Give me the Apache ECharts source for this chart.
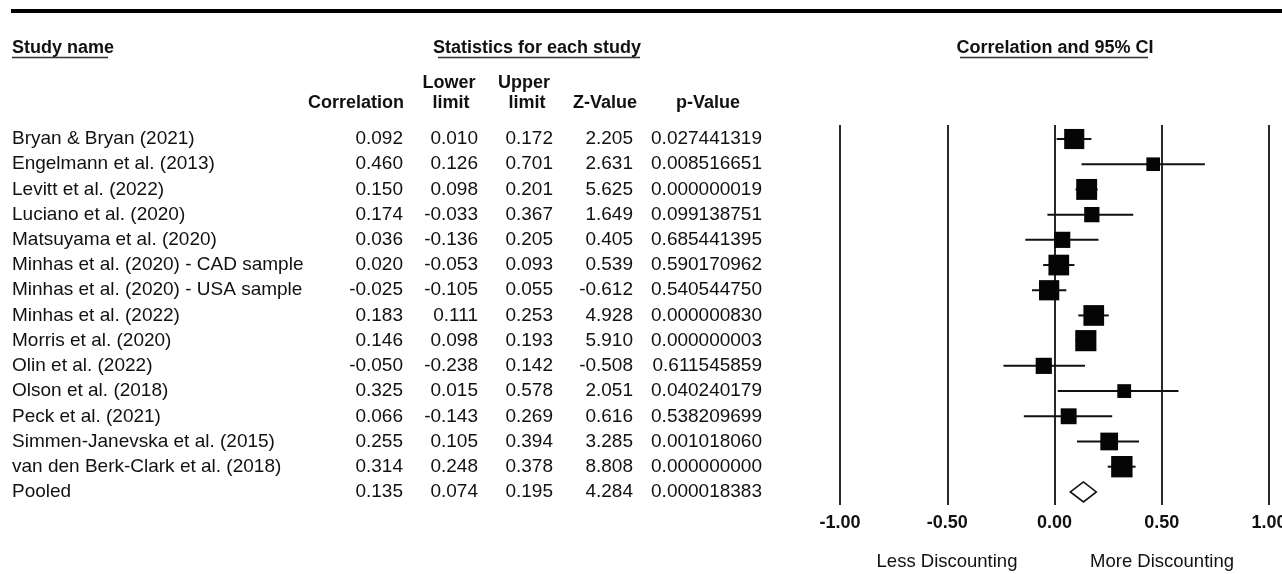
<!DOCTYPE html>
<html>
<head>
<meta charset="utf-8">
<title>Forest plot</title>
<script src="https://cdn.jsdelivr.net/npm/echarts@6/dist/echarts.min.js"></script>
<style>
    html, body { margin: 0; padding: 0; background: #fff; }
    #main { width: 1282px; height: 574px; }
</style>
</head>
<body>
<div id="main"></div>
<script>
const studies = [
    'Bryan & Bryan (2021)',
    'Engelmann et al. (2013)',
    'Levitt et al. (2022)',
    'Luciano et al. (2020)',
    'Matsuyama et al. (2020)',
    'Minhas et al. (2020) - CAD sample',
    'Minhas et al. (2020) - USA sample',
    'Minhas et al. (2022)',
    'Morris et al. (2020)',
    'Olin et al. (2022)',
    'Olson et al. (2018)',
    'Peck et al. (2021)',
    'Simmen-Janevska et al. (2015)',
    'van den Berk-Clark et al. (2018)',
    'Pooled'
];
const correlation = [0.092, 0.460, 0.150, 0.174, 0.036, 0.020, -0.025, 0.183, 0.146, -0.050, 0.325, 0.066, 0.255, 0.314, 0.135];
const lowerLimit = [0.010, 0.126, 0.098, -0.033, -0.136, -0.053, -0.105, 0.111, 0.098, -0.238, 0.015, -0.143, 0.105, 0.248, 0.074];
const upperLimit = [0.172, 0.701, 0.201, 0.367, 0.205, 0.093, 0.055, 0.253, 0.193, 0.142, 0.578, 0.269, 0.394, 0.378, 0.195];
const zValue = [2.205, 2.631, 5.625, 1.649, 0.405, 0.539, -0.612, 4.928, 5.910, -0.508, 2.051, 0.616, 3.285, 8.808, 4.284];
const pValue = ['0.027441319', '0.008516651', '0.000000019', '0.099138751', '0.685441395', '0.590170962', '0.540544750',
    '0.000000830', '0.000000003', '0.611545859', '0.040240179', '0.538209699', '0.001018060', '0.000000000', '0.000018383'];
// relative weights (%)
const weight = [8.5, 3.9, 9.2, 4.9, 5.5, 9.0, 8.6, 9.0, 9.4, 5.5, 4.0, 5.3, 6.6, 9.6];
const xTicks = [-1, -0.5, 0, 0.5, 1];

const FONT = '"Liberation Sans", Arial, Helvetica, sans-serif';
const INK = '#111';

function txt(text, x, y, align, bold, size) {
    return {
        type: 'text',
        style: {
            text: text,
            x: x,
            y: y,
            align: align,
            verticalAlign: 'middle',
            textAlign: align,
            textVerticalAlign: 'middle',
            font: (bold ? 'bold ' : '') + (size || 18) + 'px ' + FONT,
            fill: INK
        }
    };
}

function underline(x1, x2, y) {
    return {
        type: 'line',
        shape: { x1: x1, y1: y, x2: x2, y2: y },
        style: { stroke: '#333', lineWidth: 1.6 }
    };
}

const pooledIdx = studies.length - 1;
const studyData = weight.map((w, i) => [correlation[i], lowerLimit[i], upperLimit[i], i, w]);
const pooledData = [[correlation[pooledIdx], lowerLimit[pooledIdx], upperLimit[pooledIdx], pooledIdx]];
const tableData = studies.map((s, i) => [0, i]);

// columns of the table (pixel x, alignment)
const cols = [
    { x: 12, align: 'left', get: i => studies[i] },
    { x: 403, align: 'right', get: i => correlation[i].toFixed(3) },
    { x: 478, align: 'right', get: i => lowerLimit[i].toFixed(3) },
    { x: 553, align: 'right', get: i => upperLimit[i].toFixed(3) },
    { x: 633, align: 'right', get: i => zValue[i].toFixed(3) },
    { x: 762, align: 'right', get: i => pValue[i] }
];

const chart = echarts.init(document.getElementById('main'), null, { renderer: 'canvas' });

const option = {
    animation: false,
    backgroundColor: '#fff',
    grid: { left: 840, right: 13, top: 125, bottom: 69, outerBoundsMode: 'none', containLabel: false },
    xAxis: {
        type: 'value',
        min: xTicks[0],
        max: xTicks[xTicks.length - 1],
        interval: xTicks[1] - xTicks[0],
        axisLine: { show: false },
        axisTick: { show: false },
        axisLabel: {
            margin: 9,
            color: INK,
            fontSize: 18,
            fontWeight: 'bold',
            fontFamily: FONT,
            formatter: v => v.toFixed(2)
        },
        splitLine: { show: true, lineStyle: { color: INK, width: 1.8 } }
    },
    yAxis: {
        type: 'value',
        inverse: true,
        min: -0.556,
        max: 14.52,
        show: false
    },
    graphic: [
        { type: 'rect', shape: { x: 11, y: 9, width: 1271, height: 4 }, style: { fill: '#000' } },
        txt('Study name', 12, 48, 'left', true),
        underline(12, 108, 57.5),
        txt('Statistics for each study', 537, 48, 'center', true),
        underline(438, 640, 57.5),
        txt('Correlation and 95% CI', 1055, 48, 'center', true),
        underline(960, 1148, 57.5),
        txt('Correlation', 404, 103, 'right', true),
        txt('Lower', 449, 83, 'center', true),
        txt('limit', 451, 103, 'center', true),
        txt('Upper', 524, 83, 'center', true),
        txt('limit', 527, 103, 'center', true),
        txt('Z-Value', 637, 103, 'right', true),
        txt('p-Value', 708, 103, 'center', true),
        txt('Less Discounting', 947, 562, 'center', false, 18.5),
        txt('More Discounting', 1162, 562, 'center', false, 18.5)
    ],
    series: [
        {
            name: 'table',
            type: 'custom',
            silent: true,
            clip: false,
            data: tableData,
            renderItem: function (params, api) {
                const i = params.dataIndex;
                const y = api.coord([0, api.value(1)])[1];
                return {
                    type: 'group',
                    children: cols.map(c => txt(c.get(i), c.x, y, c.align, false, 19))
                };
            }
        },
        {
            name: 'studies',
            type: 'custom',
            silent: true,
            data: studyData,
            encode: { x: [0, 1, 2], y: 3 },
            renderItem: function (params, api) {
                const row = api.value(3);
                const mid = api.coord([api.value(0), row]);
                const lo = api.coord([api.value(1), row]);
                const hi = api.coord([api.value(2), row]);
                const s = Math.sqrt(api.value(4)) * 6.9;
                return {
                    type: 'group',
                    children: [
                        {
                            type: 'line',
                            shape: { x1: lo[0], y1: mid[1], x2: hi[0], y2: mid[1] },
                            style: { stroke: INK, lineWidth: 2 }
                        },
                        {
                            type: 'rect',
                            shape: { x: mid[0] - s / 2, y: mid[1] - s / 2, width: s, height: s },
                            style: { fill: '#050505' }
                        }
                    ]
                };
            }
        },
        {
            name: 'pooled',
            type: 'custom',
            silent: true,
            data: pooledData,
            encode: { x: [0, 1, 2], y: 3 },
            renderItem: function (params, api) {
                const row = api.value(3);
                const mid = api.coord([api.value(0), row]);
                const lo = api.coord([api.value(1), row]);
                const hi = api.coord([api.value(2), row]);
                const h = 10;
                return {
                    type: 'polygon',
                    shape: { points: [[lo[0], mid[1]], [mid[0], mid[1] - h], [hi[0], mid[1]], [mid[0], mid[1] + h]] },
                    style: { fill: '#fff', stroke: INK, lineWidth: 1.6 }
                };
            }
        }
    ]
};

chart.setOption(option);
</script>
</body>
</html>
